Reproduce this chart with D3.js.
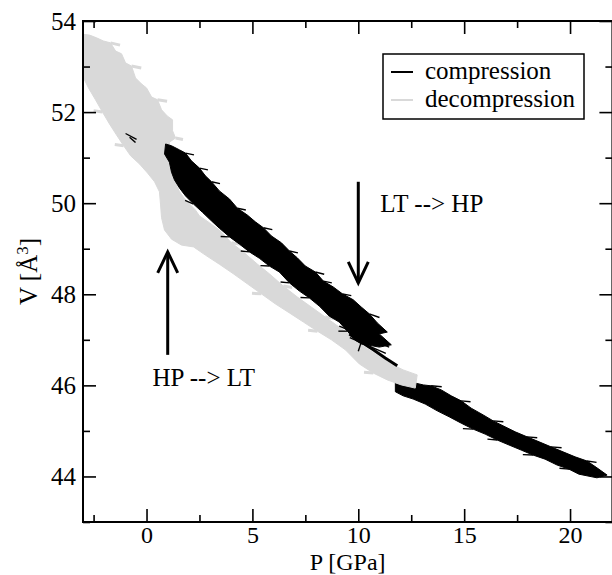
<!DOCTYPE html>
<html><head><meta charset="utf-8">
<script src="https://cdn.jsdelivr.net/npm/d3@7"></script>
<style>body{margin:0;background:#fff} svg{display:block}</style>
</head><body>
<script>
// ---- data ----
const xMajorTicks = [0, 5, 10, 15, 20];
const xMinorTicks = [-2.5, 2.5, 7.5, 12.5, 17.5];
const yMajorTicks = [44, 46, 48, 50, 52, 54];
const yMinorTicks = [43, 45, 47, 49, 51, 53];
const seriesNames = ["compression", "decompression"];

// decompression band outline (P [GPa], V [A^3])
const decompression = [
 [-3.02,53.71],[-2.69,53.69],[-2.36,53.63],[-2.03,53.56],[-1.70,53.52],[-1.46,53.34],[-1.18,53.28],
 [-0.99,53.08],[-0.71,53.01],[-0.52,52.75],[-0.24,52.62],[0.00,52.53],[0.24,52.33],[0.52,52.27],
 [0.71,52.05],[0.99,51.91],[1.23,51.83],[1.23,51.59],[1.37,51.43],[1.08,51.34],[1.18,50.95],
 [1.27,50.55],[1.56,50.25],[1.84,50.07],[2.31,49.85],[2.50,49.72],[2.97,49.57],[3.44,49.41],
 [4.01,49.13],[4.62,48.91],[5.24,48.66],[5.80,48.45],[6.46,48.18],[7.12,47.94],[7.78,47.72],
 [8.44,47.50],[9.10,47.28],[9.67,47.08],[10.24,46.86],[10.80,46.69],[11.46,46.49],[12.12,46.34],
 [12.78,46.23],
 [12.69,45.94],[12.03,46.01],[11.37,46.12],[10.71,46.27],[10.05,46.47],[9.39,46.78],[8.73,47.00],
 [8.07,47.19],[7.41,47.39],[6.75,47.59],[6.08,47.79],[5.42,48.01],[4.76,48.23],[4.10,48.45],
 [3.44,48.66],[2.78,48.86],[2.22,49.04],[1.65,49.08],[1.18,49.21],[0.85,49.41],[0.71,49.68],
 [0.66,49.98],[0.61,50.25],[0.38,50.47],[0.05,50.66],[-0.33,50.86],[-0.75,51.04],[-1.08,51.26],
 [-1.42,51.50],[-1.75,51.74],[-2.08,52.00],[-2.41,52.27],[-2.74,52.53],[-3.02,52.79]
];
const decompressionHairs = [
 [[-1.70,53.52],[-1.25,53.47]], [[-0.71,53.01],[-0.25,52.97]], [[0.52,52.27],[0.97,52.24]],
 [[1.37,51.43],[1.72,51.40]], [[-1.08,51.26],[-1.50,51.29]], [[-2.08,52.00],[-2.50,52.03]],
 [[4.01,49.13],[4.45,49.10]], [[6.46,48.18],[6.88,48.15]], [[8.44,47.50],[8.86,47.47]],
 [[5.42,48.01],[4.98,48.02]], [[8.07,47.19],[7.63,47.21]], [[10.71,46.27],[10.27,46.29]]
];

// compression: high-volume branch
const compressionHigh = [
 [0.90,51.30],[1.18,51.26],[1.56,51.17],[1.84,51.10],[2.12,50.93],[2.50,50.77],[2.78,50.60],
 [3.07,50.47],[3.44,50.27],[3.92,50.09],[4.29,49.89],[4.76,49.74],[5.14,49.59],[5.52,49.46],
 [5.90,49.28],[6.37,49.13],[6.75,48.95],[7.12,48.80],[7.50,48.62],[7.97,48.49],[8.35,48.29],
 [8.82,48.16],[9.25,48.01],[9.76,47.88],[10.14,47.72],[10.52,47.57],[10.90,47.37],[11.37,47.17],
 [10.99,47.13],[11.56,46.89],
 [10.99,46.84],[10.52,46.88],[10.14,46.91],[9.86,46.99],[9.48,47.19],[9.10,47.39],[8.63,47.52],
 [8.16,47.74],[7.69,47.92],[7.22,48.07],[6.75,48.25],[6.27,48.49],[5.80,48.62],[5.33,48.79],
 [4.86,48.93],[4.39,49.10],[3.92,49.26],[3.44,49.45],[3.07,49.61],[2.64,49.80],[2.22,49.98],
 [1.84,50.16],[1.56,50.33],[1.32,50.51],[1.18,50.68],[1.08,50.90],[0.85,51.08]
];
const compressionHairs = [
 [[1.84,51.10],[2.24,51.06]], [[2.50,50.77],[2.90,50.73]], [[3.07,50.47],[3.47,50.43]],
 [[4.29,49.89],[4.69,49.85]], [[5.52,49.46],[5.94,49.42]], [[6.75,48.95],[7.15,48.91]],
 [[7.97,48.49],[8.39,48.44]], [[8.35,48.29],[8.75,48.25]], [[9.25,48.01],[9.67,47.97]],
 [[10.52,47.57],[11.00,47.49]],
 [[2.22,49.98],[1.82,50.06]], [[3.92,49.26],[3.50,49.27]], [[4.86,48.93],[4.45,48.95]],
 [[5.80,48.62],[5.38,48.63]], [[6.75,48.25],[6.33,48.27]], [[7.69,47.92],[7.27,47.93]],
 [[9.48,47.19],[9.06,47.19]],
 [[13.44,45.99],[13.94,45.97]], [[14.86,45.66],[15.30,45.64]], [[16.37,45.22],[16.85,45.20]],
 [[17.97,44.87],[18.45,44.85]], [[19.10,44.65],[19.60,44.63]], [[20.80,44.34],[21.25,44.31]],
 [[15.42,45.04],[14.94,45.05]], [[16.56,44.80],[16.10,44.82]], [[18.25,44.47],[17.77,44.48]],
 [[19.95,44.16],[19.50,44.18]],
 [[-0.99,51.53],[-0.47,51.40]], [[-0.80,51.45],[-0.52,51.33]],
 [[9.10,47.30],[11.46,46.84]], [[9.60,47.05],[11.30,46.70]], [[10.14,46.95],[10.00,46.75]]
];
// compression: link along the decompression edge
const compressionLink = [
 [9.58,47.13],[10.14,46.95],[10.71,46.78],[11.27,46.60],[11.84,46.43]
];
// compression: low-volume branch
const compressionLow = [
 [11.75,46.12],[12.22,46.10],[12.69,46.05],[13.07,46.01],[13.44,45.99],[13.92,45.90],[14.39,45.77],
 [14.86,45.66],[15.33,45.50],[15.90,45.35],[16.37,45.22],[16.93,45.09],[17.41,44.98],[17.97,44.87],
 [18.54,44.76],[19.10,44.65],[19.67,44.54],[20.24,44.43],[20.80,44.34],[21.27,44.19],[21.75,44.03],
 [21.27,43.97],[20.42,44.05],[19.95,44.16],[19.39,44.25],[18.82,44.38],[18.25,44.47],[17.69,44.58],
 [17.12,44.69],[16.56,44.80],[15.99,44.93],[15.42,45.04],[14.86,45.17],[14.29,45.31],[13.73,45.44],
 [13.16,45.59],[12.59,45.70],[12.12,45.77],[11.75,45.86]
];

// annotations
const annotations = [
 {text: "LT --> HP", p: 11.04, v: 49.81, from: [10.0, 50.47], to: [10.0, 48.25]},
 {text: "HP --> LT", p: 0.28, v: 45.99, from: [1.0, 46.67], to: [1.0, 48.93]}
];

// ---- drawing ----
const W = 612, H = 575;
const margin = {left: 83, right: 612.4, top: 21, bottom: 522};
const font = "'Liberation Serif', 'Times New Roman', serif";
const fs = 25;
const colors = {compression: "#000000", decompression: "#d9d9d9"};

const svg = d3.select("body").append("svg").attr("width", W).attr("height", H)
  .style("font-family", font);

const x = d3.scaleLinear().domain([-3, 22]).range([margin.left, margin.right]);
const y = d3.scaleLinear().domain([43, 54]).range([margin.bottom, margin.top]);

svg.append("clipPath").attr("id", "clip").append("rect")
  .attr("x", margin.left).attr("y", margin.top)
  .attr("width", margin.right - margin.left).attr("height", margin.bottom - margin.top);

const line = d3.line().x(d => x(d[0])).y(d => y(d[1]));
const plot = svg.append("g").attr("clip-path", "url(#clip)");

function band(data, col) {
  plot.append("path").attr("d", line(data) + "Z")
    .attr("fill", col).attr("stroke", col)
    .attr("stroke-width", 1).attr("stroke-linejoin", "round");
}
function hairs(list, col, w) {
  list.forEach(s => plot.append("path").attr("d", line(s))
    .attr("stroke", col).attr("stroke-width", w).attr("fill", "none"));
}
band(compressionLow, colors.compression);
band(decompression, colors.decompression);
hairs(decompressionHairs, colors.decompression, 3);
band(compressionHigh, colors.compression);
plot.append("path").attr("d", line(compressionLink))
  .attr("stroke", colors.compression).attr("stroke-width", 3).attr("fill", "none");
hairs(compressionHairs, colors.compression, 1.4);

// axes
function styleAxis(g, size) {
  g.selectAll(".domain").remove();
  g.selectAll("line").attr("stroke", "#000").attr("stroke-width", 1.6);
  g.selectAll("text").attr("font-size", size || fs).attr("font-family", font).attr("fill", "#000");
}
const B = margin.bottom, L = margin.left, R = margin.right, T = margin.top;
svg.append("g").attr("transform", `translate(0,${B})`)
  .call(d3.axisBottom(x).tickValues(xMajorTicks).tickSize(-13).tickPadding(4).tickFormat(d3.format("d")))
  .call(g => styleAxis(g, 24));
svg.append("g").attr("transform", `translate(0,${B})`)
  .call(d3.axisBottom(x).tickValues(xMinorTicks).tickSize(-7).tickFormat("")).call(styleAxis);
svg.append("g").attr("transform", `translate(0,${T})`)
  .call(d3.axisTop(x).tickValues(xMajorTicks).tickSize(-13).tickFormat("")).call(styleAxis);
svg.append("g").attr("transform", `translate(0,${T})`)
  .call(d3.axisTop(x).tickValues(xMinorTicks).tickSize(-7).tickFormat("")).call(styleAxis);
svg.append("g").attr("transform", `translate(${L},0)`)
  .call(d3.axisLeft(y).tickValues(yMajorTicks).tickSize(-13).tickPadding(7).tickFormat(d3.format("d")))
  .call(styleAxis);
svg.append("g").attr("transform", `translate(${L},0)`)
  .call(d3.axisLeft(y).tickValues(yMinorTicks).tickSize(-7).tickFormat("")).call(styleAxis);
svg.append("g").attr("transform", `translate(${R},0)`)
  .call(d3.axisRight(y).tickValues(yMajorTicks).tickSize(-13).tickFormat("")).call(styleAxis);
svg.append("g").attr("transform", `translate(${R},0)`)
  .call(d3.axisRight(y).tickValues(yMinorTicks).tickSize(-7).tickFormat("")).call(styleAxis);

svg.append("rect").attr("x", L).attr("y", T).attr("width", R - L).attr("height", B - T)
  .attr("fill", "none").attr("stroke", "#000").attr("stroke-width", 2);

// axis titles
svg.append("text").attr("x", (L + R) / 2).attr("y", 569.5).attr("text-anchor", "middle")
  .attr("font-size", 24).text("P [GPa]");
const yl = svg.append("text").attr("transform", `translate(37,${(T + B) / 2}) rotate(-90)`)
  .attr("text-anchor", "middle").attr("font-size", fs);
yl.append("tspan").text("V [Å");
yl.append("tspan").attr("baseline-shift", "super").attr("font-size", 17).text("3");
yl.append("tspan").text("]");

// annotations
annotations.forEach(a => {
  const x0 = x(a.from[0]), y0 = y(a.from[1]), x1 = x(a.to[0]), y1 = y(a.to[1]);
  const dir = Math.sign(y1 - y0);
  svg.append("line").attr("x1", x0).attr("y1", y0).attr("x2", x1).attr("y2", y1)
    .attr("stroke", "#000").attr("stroke-width", 3);
  svg.append("path")
    .attr("d", `M${x1 - 10},${y1 - dir * 21}L${x1},${y1}L${x1 + 10},${y1 - dir * 21}`)
    .attr("fill", "none").attr("stroke", "#000").attr("stroke-width", 3);
  svg.append("text").attr("x", x(a.p)).attr("y", y(a.v)).attr("font-size", fs).text(a.text);
});

// legend
const lg = svg.append("g");
lg.append("rect").attr("x", 383).attr("y", 54).attr("width", 201).attr("height", 65)
  .attr("fill", "#fff").attr("stroke", "#000").attr("stroke-width", 1.5);
seriesNames.forEach((n, i) => {
  const yy = 72 + i * 28;
  lg.append("line").attr("x1", 391).attr("x2", 413).attr("y1", yy).attr("y2", yy)
    .attr("stroke", colors[n]).attr("stroke-width", 2);
  lg.append("text").attr("x", 425).attr("y", yy + 7).attr("font-size", fs).text(n);
});
</script>
</body></html>
